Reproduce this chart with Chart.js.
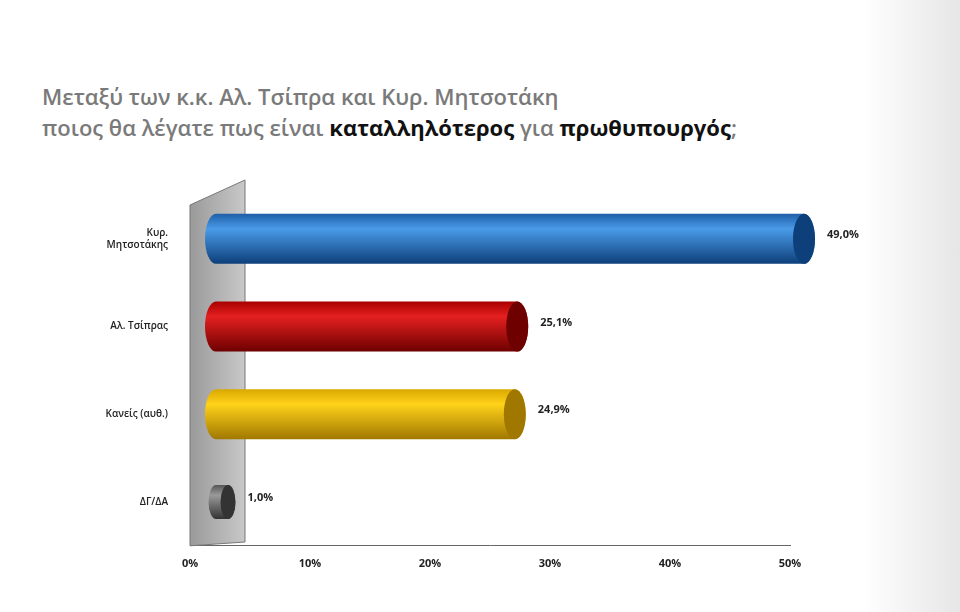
<!DOCTYPE html>
<html><head><meta charset="utf-8">
<script src="https://cdn.jsdelivr.net/npm/chart.js@4"></script>
<style>
body{margin:0;width:960px;height:612px;overflow:hidden;background:linear-gradient(90deg,#fff 0,#fff 90%,#e6e6e6 100%);font-family:"Open Sans",sans-serif}
#t{position:absolute;left:42px;top:81px;font-size:22px;line-height:31px;color:#7a7a7a;font-weight:600}
#t b{color:#111;font-weight:700}
canvas{position:absolute;left:0;top:0}
</style></head><body>
<div id="t">Μεταξύ των κ.κ. Αλ. Τσίπρα και Κυρ. Μητσοτάκη<br>ποιος θα λέγατε πως είναι <b>καταλληλότερος</b> για <b>πρωθυπουργός</b>;</div>
<canvas id="c" width="960" height="612"></canvas>
<script>
const categories=[["Κυρ.","Μητσοτάκης"],"Αλ. Τσίπρας","Κανείς (αυθ.)","ΔΓ/ΔΑ"];
const values=[49.0,25.1,24.9,1.0];
const valueLabels=["49,0%","25,1%","24,9%","1,0%"];
const tickValues=[0,10,20,30,40,50];
const colors=[["#1f5fa8","#4a9be8","#0d3f7a"],["#a80000","#e52020","#6e0000"],["#d9a800","#ffd21a","#a07800"],["#555","#9a9a9a","#333"]];
const off=26;
const deco={id:'deco',
beforeDatasetsDraw(ch){const c=ch.ctx;const a=ch.chartArea;
 c.save();const g=c.createLinearGradient(a.left,0,a.left+55,0);g.addColorStop(0,'#9a9a9a');g.addColorStop(1,'#c8c8c8');
 c.fillStyle=g;c.beginPath();c.moveTo(a.left,205);c.lineTo(a.left+55,180);c.lineTo(a.left+55,542);c.lineTo(a.left,a.bottom);c.closePath();c.fill();
 c.strokeStyle='#777';c.lineWidth=1;c.stroke();
 const m=ch.getDatasetMeta(0);
 m.data.forEach((el,i)=>{const h=i==3?34:50;const y0=el.y-h/2;const x0=el.base+off;const x1=el.x+off;const r=Math.max(h*0.22,4);const col=colors[i];
  const gr=c.createLinearGradient(0,y0,0,y0+h);gr.addColorStop(0,col[0]);gr.addColorStop(0.3,col[1]);gr.addColorStop(1,col[2]);
  c.fillStyle=gr;c.beginPath();c.ellipse(x0,el.y,r,h/2,0,Math.PI/2,Math.PI*1.5);c.lineTo(x1,y0);c.ellipse(x1,el.y,r,h/2,0,-Math.PI/2,Math.PI/2);c.closePath();c.fill();
  c.fillStyle=col[2];c.beginPath();c.ellipse(x1,el.y,r,h/2,0,0,Math.PI*2);c.fill();
  c.fillStyle='#222';c.font='bold 11px "Open Sans"';c.textBaseline='middle';c.fillText(valueLabels[i],x1+r+12,el.y-4);
 });c.restore();}};
new Chart(document.getElementById('c'),{type:'bar',
data:{labels:categories,datasets:[{data:values,backgroundColor:'rgba(0,0,0,0)',categoryPercentage:0.58,barPercentage:1}]},
options:{indexAxis:'y',responsive:false,animation:false,events:[],
layout:{padding:{top:195,right:170,bottom:36,left:0}},
plugins:{legend:{display:false},tooltip:{enabled:false}},
scales:{x:{min:0,max:50,afterBuildTicks:s=>{s.ticks=tickValues.map(v=>({value:v}))},grid:{display:false,drawTicks:true,tickLength:5,color:'#666'},border:{color:'#666'},
 ticks:{callback:v=>v+'%',color:'#222',font:{size:11,family:'Open Sans',weight:'bold'},padding:6}},
 y:{afterFit:s=>{s.width=190},grid:{display:false},border:{display:false},ticks:{color:'#222',font:{size:10,family:'Open Sans',weight:'600'},padding:14}}}},
plugins:[deco]});
</script></body></html>
